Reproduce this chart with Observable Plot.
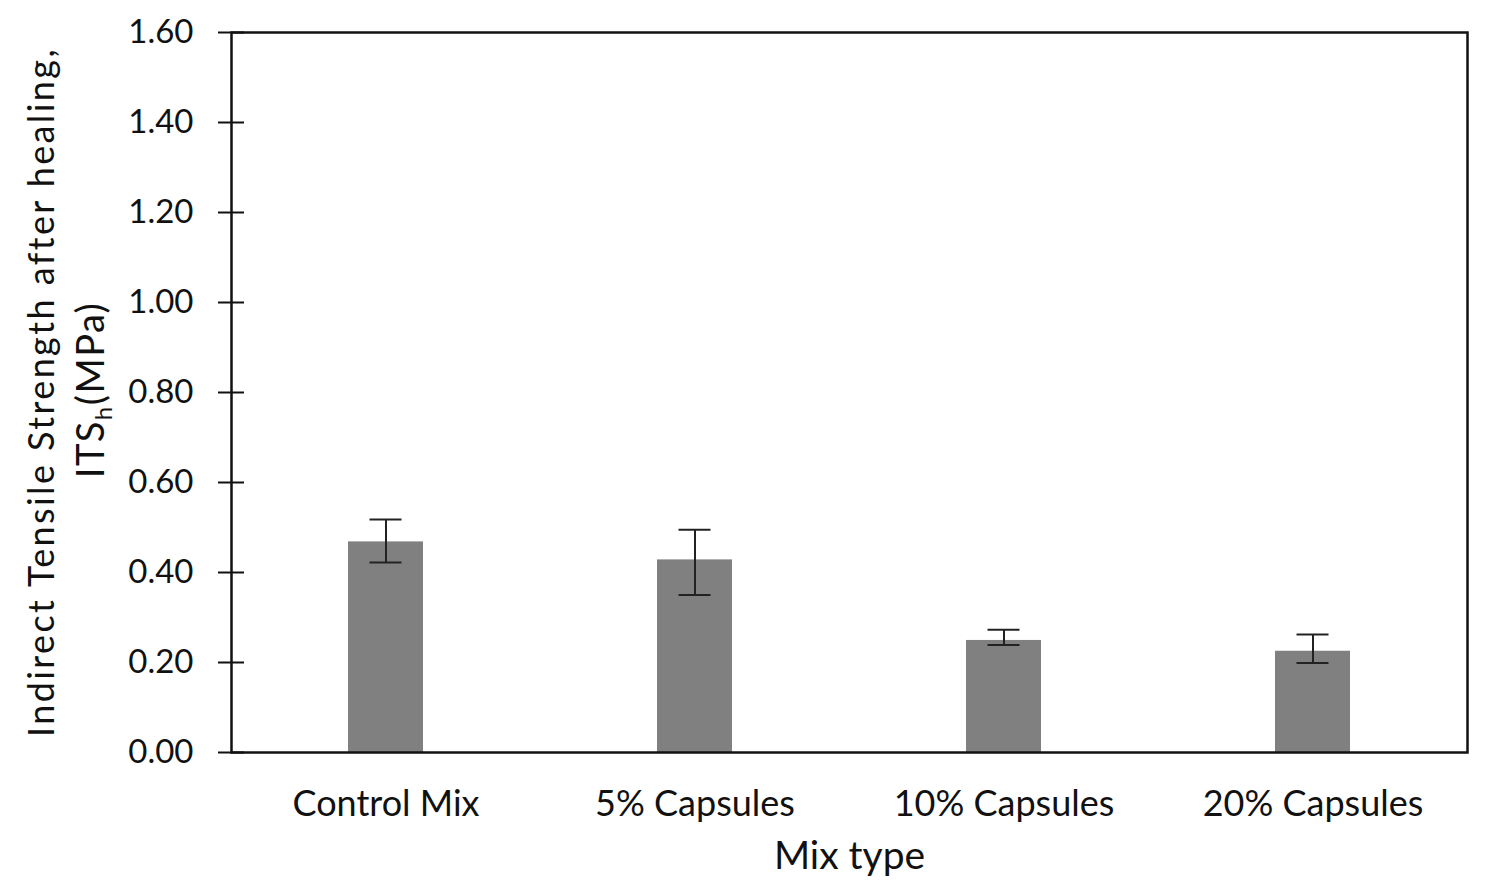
<!DOCTYPE html>
<html>
<head>
<meta charset="utf-8">
<script src="https://cdn.jsdelivr.net/npm/d3@7"></script>
<script src="https://cdn.jsdelivr.net/npm/@observablehq/plot@0.6"></script>
<style>
  html, body { margin: 0; padding: 0; background: #fff; }
  #chart svg { display: block; }
</style>
</head>
<body>
<div id="chart"></div>
<script>
const categories = ["Control Mix", "5% Capsules", "10% Capsules", "20% Capsules"];
const values = [0.468, 0.428, 0.249, 0.225];
const errLow = [0.422, 0.350, 0.239, 0.199];
const errHigh = [0.518, 0.495, 0.273, 0.262];
const yTicks = [0, 0.2, 0.4, 0.6, 0.8, 1.0, 1.2, 1.4, 1.6];
const xTitle = "Mix type";
const yTitleLine1 = "Indirect Tensile Strength after healing,";

const data = categories.map((mix, i) => ({mix, val: values[i], lo: errLow[i], hi: errHigh[i]}));

const W = 1492, H = 887;
const mL = 231, mR = 25, mT = 32, mB = 135;
const step = (W - mL - mR) / categories.length;
const barW = 75, capW = 32;
const font = "Lato, 'Open Sans', sans-serif";

const chart = Plot.plot({
  width: W,
  height: H,
  marginLeft: mL,
  marginRight: mR,
  marginTop: mT,
  marginBottom: mB,
  style: {fontFamily: font, fontSize: "33px", color: "#111", background: "#fff"},
  x: {domain: categories, padding: 0},
  y: {domain: [0, 1.6]},
  marks: [
    Plot.barY(data, {x: "mix", y: "val", fill: "#808080", insetLeft: (step - barW) / 2, insetRight: (step - barW) / 2}),
    Plot.ruleX(data, {x: "mix", y1: "lo", y2: "hi", stroke: "#222", strokeWidth: 2}),
    Plot.tickY(data, {x: "mix", y: "lo", stroke: "#222", strokeWidth: 2, insetLeft: (step - capW) / 2, insetRight: (step - capW) / 2}),
    Plot.tickY(data, {x: "mix", y: "hi", stroke: "#222", strokeWidth: 2, insetLeft: (step - capW) / 2, insetRight: (step - capW) / 2}),
    Plot.axisY({ticks: yTicks, tickFormat: d3.format(".2f"), tickSize: 26, dx: 13, tickPadding: 25, strokeWidth: 2, label: null, fontSize: 33}),
    Plot.axisX({tickSize: 0, tickPadding: 38, fontSize: 36, label: null}),
    Plot.axisX({tickSize: 0, ticks: [], fontSize: 39, label: xTitle, labelAnchor: "center", labelArrow: "none", labelOffset: 116}),
    Plot.frame({stroke: "#111", strokeWidth: 2.5})
  ]
});

document.getElementById("chart").appendChild(chart);

// Two-line rotated y-axis title with subscript
const svg = d3.select(chart);
const cy = 392;
svg.append("text")
  .attr("transform", `translate(54,${cy}) rotate(-90)`)
  .attr("text-anchor", "middle")
  .attr("font-family", font)
  .attr("font-size", 36)
  .attr("letter-spacing", "2.4px")
  .attr("fill", "#111")
  .text(yTitleLine1);
const t2 = svg.append("text")
  .attr("transform", `translate(104,${cy - 2}) rotate(-90)`)
  .attr("text-anchor", "middle")
  .attr("font-family", font)
  .attr("font-size", 38)
  .attr("letter-spacing", "1.5px")
  .attr("fill", "#111");
t2.append("tspan").text("ITS");
t2.append("tspan").attr("font-size", 24).attr("dy", 8).text("h");
t2.append("tspan").attr("dy", -8).text("(MPa)");
</script>
</body>
</html>
